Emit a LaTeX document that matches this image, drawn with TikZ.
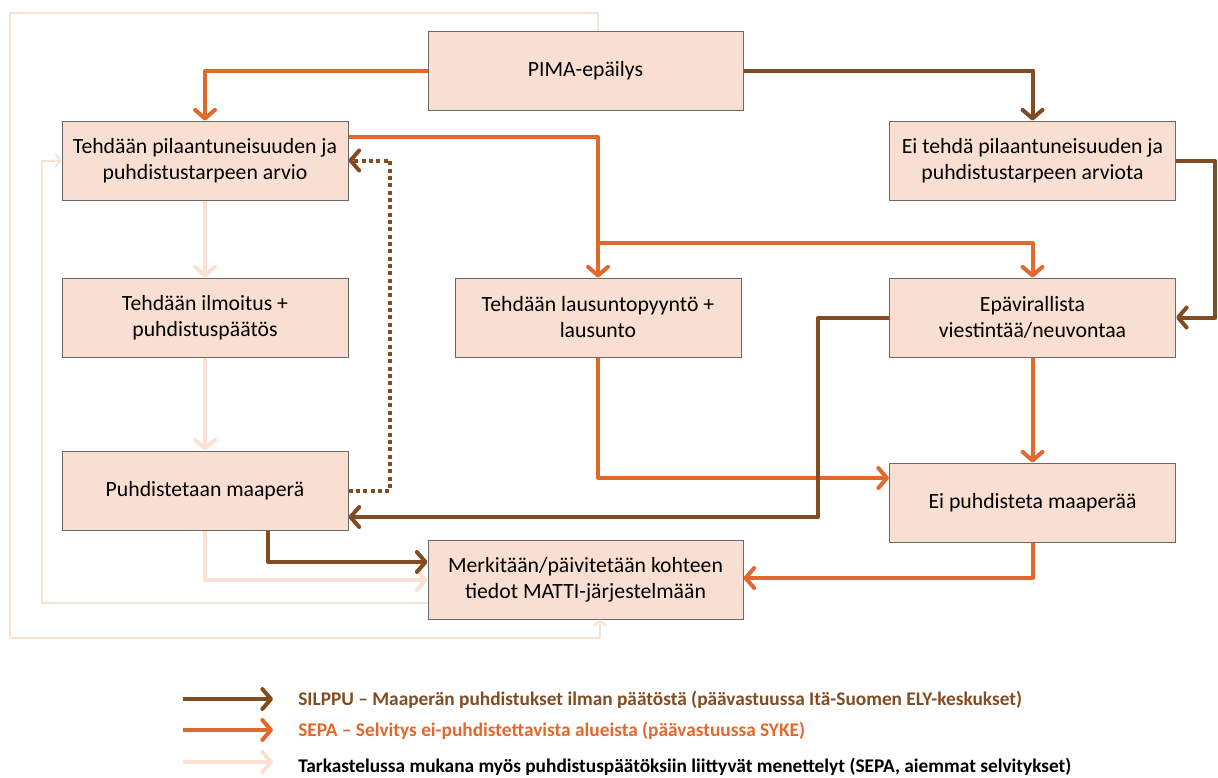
\documentclass[tikz,border=0pt]{standalone}
\usepackage{fontspec}
\setmainfont{Carlito}
\usetikzlibrary{arrows.meta}
\definecolor{boxfill}{RGB}{249,223,210}
\definecolor{boxline}{RGB}{105,105,105}
\definecolor{silppu}{RGB}{130,76,34}
\definecolor{sepa}{RGB}{226,104,44}
\definecolor{pale}{RGB}{251,225,212}

\begin{document}
\begin{tikzpicture}[x=0.75pt,y=-0.75pt,
  stepbox/.style={draw=boxline,line width=0.75pt,fill=boxfill,
    minimum width=214.5pt,minimum height=59.25pt,align=center,
    font=\fontsize{16.3}{19.5}\selectfont,inner sep=2pt},
  widebox/.style={stepbox,minimum width=236.25pt},
  flow/.style={line width=3pt,line join=round,
    -{Straight Barb[length=6.5pt,width=15pt,round]}},
  silppuflow/.style={flow,draw=silppu},
  sepaflow/.style={flow,draw=sepa},
  paleflow/.style={flow,draw=pale},
  palethin/.style={draw=pale,line width=1.5pt,line join=round,
    -{Straight Barb[length=3.5pt,width=9pt,round]}},
  dotflow/.style={silppuflow,dash pattern=on 3pt off 2.5pt},
  legend/.style={anchor=west,font=\bfseries\fontsize{14.5}{16}\selectfont,inner sep=0pt}
]
\useasboundingbox (0,0) rectangle (1218,778);

% process steps
\node[widebox] (pima) at (585.5,70.5) {PIMA-epäilys};
\node[stepbox] (arvio) at (205,160.5) {Tehdään pilaantuneisuuden ja\\puhdistustarpeen arvio};
\node[stepbox] (eiarvio) at (1032.5,160.5) {Ei tehdä pilaantuneisuuden ja\\puhdistustarpeen arviota};
\node[stepbox] (ilm) at (205,317.5) {Tehdään ilmoitus +\\puhdistuspäätös};
\node[stepbox] (lau) at (598,317.5) {Tehdään lausuntopyyntö +\\lausunto};
\node[stepbox] (epa) at (1032.5,317.5) {Epävirallista\\viestintää/neuvontaa};
\node[stepbox] (puh) at (205,490.5) {Puhdistetaan maaperä};
\node[stepbox] (eipuh) at (1032.5,502.5) {Ei puhdisteta maaperää};
\node[widebox] (mer) at (585.5,579.5) {Merkitään/päivitetään kohteen\\tiedot MATTI-järjestelmään};

% pale connectors (decision procedures)
\draw[palethin] (pima.north -| 598,0) |- (10,13) |- (600,638) -- (mer.south -| 600,0);
\draw[palethin] (mer.west |- 0,603) -| (42,160.5) -- (arvio.west);
\draw[paleflow] (arvio.south) -- (ilm.north);
\draw[paleflow] (ilm.south) -- (puh.north);
\draw[paleflow] (puh.south) |- (mer.west |- 0,580);

% SEPA connectors
\draw[sepaflow] (pima.west) -| (arvio.north);
\draw[sepaflow] (arvio.east |- 0,137) -| (lau.north);
\draw[sepaflow] (lau.north |- 0,243) -| (epa.north);
\draw[sepaflow] (lau.south) |- (eipuh.west |- 0,478);
\draw[sepaflow] (epa.south) -- (eipuh.north);
\draw[sepaflow] (eipuh.south) |- (mer.east |- 0,578);

% SILPPU connectors
\draw[silppuflow] (pima.east) -| (eiarvio.north);
\draw[silppuflow] (eiarvio.east) -- (1215,160.5) |- (epa.east);
\draw[silppuflow] (epa.west) -| (818,517) -- (puh.east |- 0,517);
\draw[silppuflow] (puh.south -| 268,0) |- (mer.west |- 0,562);
\draw[dotflow] (puh.east) -- (390,490.5) |- (arvio.east);

% legend
\coordinate (l1a) at (183,699); \coordinate (l1b) at (273,699);
\coordinate (l2a) at (183,730); \coordinate (l2b) at (273,730);
\coordinate (l3a) at (183,762); \coordinate (l3b) at (273,762);
\draw[silppuflow] (l1a) -- (l1b);
\draw[sepaflow] (l2a) -- (l2b);
\draw[paleflow] (l3a) -- (l3b);
\node[legend,text=silppu] (t1) at (298,700) {SILPPU – Maaperän puhdistukset ilman päätöstä (päävastuussa Itä-Suomen ELY-keskukset)};
\node[legend,text=sepa] (t2) at (298,731) {SEPA – Selvitys ei-puhdistettavista alueista (päävastuussa SYKE)};
\node[legend,text=black] (t3) at (298,767) {Tarkastelussa mukana myös puhdistuspäätöksiin liittyvät menettelyt (SEPA, aiemmat selvitykset)};
\end{tikzpicture}
\end{document}
